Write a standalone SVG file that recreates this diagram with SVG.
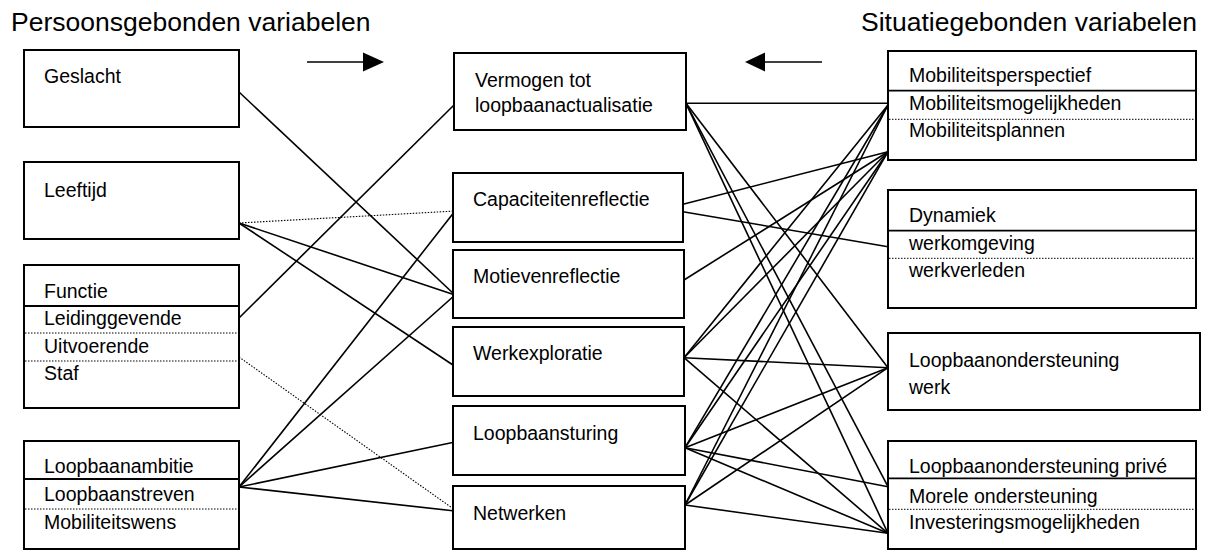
<svg xmlns="http://www.w3.org/2000/svg" width="1205" height="551" viewBox="0 0 1205 551">
<style>
.box{fill:#fff;stroke:#000;stroke-width:2}
.sep{stroke:#000;stroke-width:1.8}
.dot{stroke:#000;stroke-width:1;stroke-dasharray:1.5 1.5}
.t{font-family:"Liberation Sans",Arial,sans-serif;font-size:19.5px;fill:#000}
.h{font-family:"Liberation Sans",Arial,sans-serif;font-size:26.5px;fill:#000}
.c line{stroke:#000;stroke-width:1.6}
.c line.d{stroke-width:1.1;stroke-dasharray:1.5 1.5}
</style>
<rect width="1205" height="551" fill="#fff"/>
<text class="h" x="11" y="31">Persoonsgebonden variabelen</text>
<text class="h" x="861" y="31">Situatiegebonden variabelen</text>
<g id="arrows">
<line x1="307" y1="62" x2="364" y2="62" stroke="#000" stroke-width="1.6"/>
<polygon points="363,52.5 384,62 363,71.5" fill="#000"/>
<line x1="764" y1="62" x2="822" y2="62" stroke="#000" stroke-width="1.6"/>
<polygon points="765,52.5 745,62 765,71.5" fill="#000"/>
</g>
<g class="c" id="connectors">
<line x1="239" y1="92" x2="455" y2="295"/>
<line class="d" x1="239" y1="223" x2="455" y2="211"/>
<line x1="239" y1="223" x2="455" y2="295"/>
<line x1="239" y1="223" x2="456" y2="367"/>
<line x1="239" y1="318" x2="454" y2="105"/>
<line class="d" x1="239" y1="357" x2="455" y2="510"/>
<line x1="239" y1="487" x2="455" y2="211"/>
<line x1="239" y1="487" x2="455" y2="295"/>
<line x1="239" y1="487" x2="455" y2="442"/>
<line x1="239" y1="487" x2="455" y2="511"/>
<line x1="686" y1="103.3" x2="888" y2="103.3"/>
<line x1="686" y1="103.3" x2="888" y2="367.7"/>
<line x1="686" y1="103.3" x2="888" y2="486.7"/>
<line x1="686" y1="103.3" x2="888" y2="533.3"/>
<line x1="683" y1="204.3" x2="888" y2="151.7"/>
<line x1="683" y1="211.7" x2="888" y2="246.7"/>
<line x1="684" y1="280" x2="888" y2="151.7"/>
<line x1="684" y1="357.7" x2="888" y2="105"/>
<line x1="684" y1="357.7" x2="888" y2="151.7"/>
<line x1="684" y1="357.7" x2="888" y2="367.7"/>
<line x1="684" y1="357.7" x2="888" y2="533.3"/>
<line x1="685" y1="447.7" x2="888" y2="105"/>
<line x1="685" y1="447.7" x2="888" y2="151.7"/>
<line x1="685" y1="447.7" x2="888" y2="367.7"/>
<line x1="685" y1="447.7" x2="888" y2="486.7"/>
<line x1="685" y1="447.7" x2="888" y2="533.3"/>
<line x1="685" y1="505" x2="888" y2="105"/>
<line x1="685" y1="505" x2="888" y2="151.7"/>
<line x1="685" y1="505" x2="888" y2="367.7"/>
<line x1="685" y1="505" x2="888" y2="533.3"/>
</g>
<g id="geslacht">
<rect class="box" x="24" y="50" width="215" height="77"/>
<text class="t" x="44" y="83">Geslacht</text>
</g>
<g id="leeftijd">
<rect class="box" x="24" y="162" width="215" height="77"/>
<text class="t" x="44" y="197">Leeftijd</text>
</g>
<g id="functie">
<rect class="box" x="24" y="265" width="215" height="143"/>
<line class="sep" x1="24" y1="306" x2="240" y2="306"/>
<line class="dot" x1="25" y1="333" x2="239" y2="333"/>
<line class="dot" x1="25" y1="361" x2="239" y2="361"/>
<text class="t" x="44" y="298">Functie</text>
<text class="t" x="44" y="325">Leidinggevende</text>
<text class="t" x="44" y="353">Uitvoerende</text>
<text class="t" x="44" y="380">Staf</text>
</g>
<g id="loopbaanambitie">
<rect class="box" x="24" y="441" width="215" height="108"/>
<line class="sep" x1="24" y1="479" x2="239" y2="479"/>
<line class="dot" x1="25" y1="509" x2="239" y2="509"/>
<text class="t" x="44" y="473">Loopbaanambitie</text>
<text class="t" x="44" y="501">Loopbaanstreven</text>
<text class="t" x="44" y="529">Mobiliteitswens</text>
</g>
<g id="vermogen">
<rect class="box" x="454" y="53" width="232" height="77"/>
<text class="t" x="475" y="87">Vermogen tot</text>
<text class="t" x="475" y="112">loopbaanactualisatie</text>
</g>
<g id="capaciteiten">
<rect class="box" x="453" y="173" width="230" height="69"/>
<text class="t" x="473" y="206">Capaciteitenreflectie</text>
</g>
<g id="motieven">
<rect class="box" x="453" y="250" width="231" height="68"/>
<text class="t" x="473" y="283">Motievenreflectie</text>
</g>
<g id="werkexploratie">
<rect class="box" x="453" y="327" width="231" height="69"/>
<text class="t" x="473" y="360">Werkexploratie</text>
</g>
<g id="loopbaansturing">
<rect class="box" x="453" y="406" width="232" height="69"/>
<text class="t" x="473" y="440">Loopbaansturing</text>
</g>
<g id="netwerken">
<rect class="box" x="453" y="486" width="232" height="63"/>
<text class="t" x="473" y="520">Netwerken</text>
</g>
<g id="mobiliteit">
<rect class="box" x="888" y="51" width="308" height="109"/>
<line class="sep" x1="888" y1="90.7" x2="1196" y2="90.7"/>
<line class="dot" x1="889" y1="119.3" x2="1195" y2="119.3"/>
<text class="t" x="909" y="82">Mobiliteitsperspectief</text>
<text class="t" x="909" y="110">Mobiliteitsmogelijkheden</text>
<text class="t" x="909" y="137">Mobiliteitsplannen</text>
</g>
<g id="dynamiek">
<rect class="box" x="888" y="190" width="308" height="118"/>
<line class="sep" x1="888" y1="230.7" x2="1196" y2="230.7"/>
<line class="dot" x1="889" y1="258.3" x2="1195" y2="258.3"/>
<text class="t" x="909" y="222">Dynamiek</text>
<text class="t" x="909" y="250">werkomgeving</text>
<text class="t" x="909" y="277">werkverleden</text>
</g>
<g id="ondersteuning-werk">
<rect class="box" x="888" y="333" width="312" height="77"/>
<text class="t" x="909" y="367">Loopbaanondersteuning</text>
<text class="t" x="909" y="394">werk</text>
</g>
<g id="ondersteuning-prive">
<rect class="box" x="888" y="441" width="308" height="108"/>
<line class="sep" x1="888" y1="478.3" x2="1196" y2="478.3"/>
<line class="dot" x1="889" y1="509.3" x2="1195" y2="509.3"/>
<text class="t" x="909" y="473">Loopbaanondersteuning privé</text>
<text class="t" x="909" y="503">Morele ondersteuning</text>
<text class="t" x="909" y="529">Investeringsmogelijkheden</text>
</g>
</svg>
